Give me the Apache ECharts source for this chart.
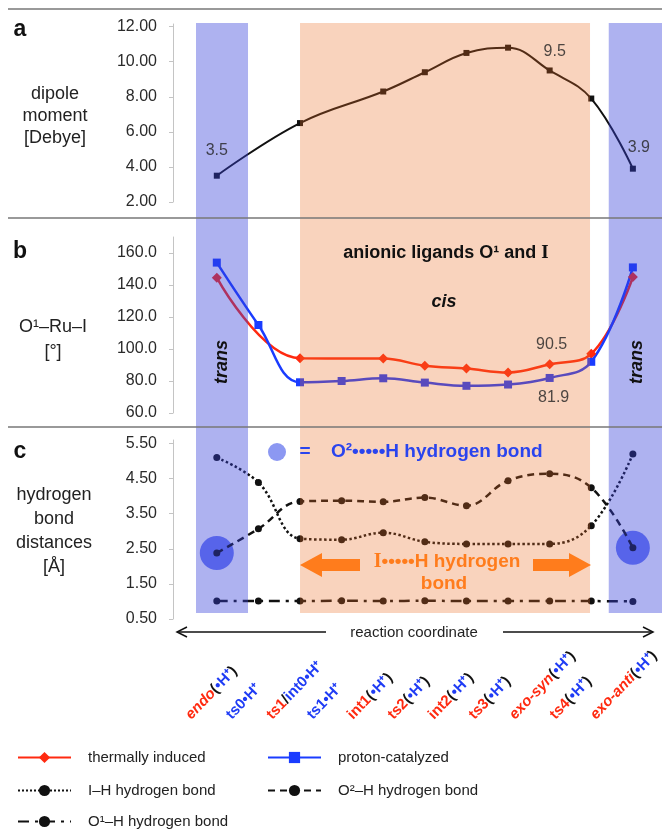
<!DOCTYPE html>
<html><head><meta charset="utf-8">
<script src="https://cdn.jsdelivr.net/npm/echarts@6/dist/echarts.min.js"></script>
<style>html,body{margin:0;padding:0;background:#fff}#c{width:662px;height:831px}</style>
</head><body><div id="c"></div>
<script>
// ---------- data ----------
const categories = ['endo(•H⁺)','ts0•H⁺','ts1/int0•H⁺','ts1•H⁺','int1(•H⁺)','ts2(•H⁺)','int2(•H⁺)','ts3(•H⁺)','exo-syn(•H⁺)','ts4(•H⁺)','exo-anti(•H⁺)'];
const dipole   = [3.5, null, 6.5, null, 8.3, 9.4, 10.5, 10.8, 9.5, 7.9, 3.9];
const dipoleLabelIdx = [0, 8, 10];
const thermal  = [144.6, null, 94.2, null, 94.0, 89.6, 87.8, 85.3, 90.5, 97.0, 145.0];
const proton   = [154.0, 115.0, 79.2, 80.0, 81.7, 79.0, 77.0, 77.8, 81.9, 92.0, 151.0];
const thermalLabelIdx = [8];
const protonLabelIdx = [8];
const ihBond   = [5.1, 4.39, 2.79, 2.76, 2.96, 2.70, 2.64, 2.64, 2.64, 3.16, 5.2];
const o2hBond  = [2.38, 3.07, 3.85, 3.87, 3.84, 3.96, 3.73, 4.44, 4.64, 4.24, 2.53];
const o1hBond  = [1.01, 1.01, 1.01, 1.02, 1.01, 1.02, 1.01, 1.01, 1.01, 1.01, 1.0];
const o2hCircleIdx = [0, 10];
const ticksA = [2, 4, 6, 8, 10, 12];
const ticksB = [60, 80, 100, 120, 140, 160];
const ticksC = [0.5, 1.5, 2.5, 3.5, 4.5, 5.5];
// background regions along the reaction coordinate: [from, to, kind] (0 = trans, 1 = cis)
const regions = [[-0.5, 0.75, 0], [2.0, 8.97, 1], [9.42, 10.7, 0]];

// ---------- helpers ----------
const FONT = "'Liberation Sans', Arial, sans-serif";
const pts = arr => arr.map((v, i) => v == null ? null : [i, v]).filter(Boolean);
const pick = (arr, idx) => idx.map(i => [i, arr[i]]);
const XMIN = -0.5, XMAX = 10.7;

function catLabel(name) {
  const italic = /^(endo|exo)/.test(name);
  let m;
  if ((m = name.match(/^(.*)\((•H⁺)\)$/))) return '{' + (italic ? 'ri' : 'r') + '|' + m[1] + '}{k|(}{b|' + m[2] + '}{k|)}';
  if ((m = name.match(/^(.*)\/(.*)$/))) return '{r|' + m[1] + '}{k|/}{b|' + m[2] + '}';
  return '{b|' + name + '}';
}

function yAx(grid, min, max, ticks, dec) {
  return {
    type: 'value', gridIndex: grid, min: min, max: max, offset: 23,
    axisLine: {show: true, onZero: false, lineStyle: {color: '#c4c4c4', width: 1}},
    axisTick: {show: true, length: 4, customValues: ticks, lineStyle: {color: '#c4c4c4'}},
    splitLine: {show: false},
    axisLabel: {customValues: ticks, margin: 16, color: '#2a2a2a', fontSize: 16, fontFamily: FONT,
      formatter: v => Number(v).toFixed(dec)}
  };
}
const hiddenX = g => ({type: 'value', gridIndex: g, min: XMIN, max: XMAX, show: false});

const chart = echarts.init(document.getElementById('c'), null, {renderer: 'canvas'});

const txt = (text, x, y, font, fill, extra) => ({
  type: 'text', x: x, y: y, z: 100,
  style: Object.assign({text: text, font: font, fill: fill, textAlign: 'center', textVerticalAlign: 'middle'}, extra || {})
});

const lineCol = '#777';
const graphics = [
  {type: 'line', z: 100, shape: {x1: 8, y1: 9, x2: 662, y2: 9}, style: {stroke: lineCol, lineWidth: 1.5}},
  {type: 'line', z: 100, shape: {x1: 8, y1: 218, x2: 662, y2: 218}, style: {stroke: lineCol, lineWidth: 1.5}},
  {type: 'line', z: 100, shape: {x1: 8, y1: 427, x2: 662, y2: 427}, style: {stroke: lineCol, lineWidth: 1.5}},
  txt('a', 20, 30, 'bold 23px ' + FONT, '#111'),
  txt('b', 20, 252, 'bold 23px ' + FONT, '#111'),
  txt('c', 20, 452, 'bold 23px ' + FONT, '#111'),
  txt('dipole\nmoment\n[Debye]', 55, 116, '18px ' + FONT, '#222', {lineHeight: 22}),
  txt('O¹–Ru–I\n[°]', 53, 340, '18px ' + FONT, '#222', {lineHeight: 25}),
  txt('hydrogen\nbond\ndistances\n[Å]', 54, 531, '18px ' + FONT, '#222', {lineHeight: 24}),
  {type: 'text', z: 100, x: 446, y: 253, style: {
    text: '{s|anionic ligands O¹ and }{i|I}', textAlign: 'center', textVerticalAlign: 'middle',
    rich: {s: {font: 'bold 18px ' + FONT, fill: '#111'}, i: {font: 'bold 19px "Liberation Serif", serif', fill: '#111'}}}},
  txt('cis', 444, 302, 'italic bold 18px ' + FONT, '#111'),
  {type: 'text', z: 100, x: 222, y: 362, rotation: Math.PI / 2, style: {text: 'trans', font: 'italic bold 18px ' + FONT, fill: '#111', textAlign: 'center', textVerticalAlign: 'middle'}},
  {type: 'text', z: 100, x: 637, y: 362, rotation: Math.PI / 2, style: {text: 'trans', font: 'italic bold 18px ' + FONT, fill: '#111', textAlign: 'center', textVerticalAlign: 'middle'}},
  {type: 'circle', z: 100, shape: {cx: 277, cy: 452, r: 9}, style: {fill: '#8c98f2'}},
  txt('=', 305, 452, 'bold 19px ' + FONT, '#2a44ee'),
  txt('O²•••••H hydrogen bond', 331, 452, 'bold 19px ' + FONT, '#2a44ee', {textAlign: 'left'}),
  {type: 'text', z: 100, x: 447, y: 562, style: {
    text: '{i|I}{s|•••••H hydrogen}', textAlign: 'center', textVerticalAlign: 'middle',
    rich: {s: {font: 'bold 19px ' + FONT, fill: '#ff7c1c'}, i: {font: 'bold 20px "Liberation Serif", serif', fill: '#ff7c1c'}}}},
  txt('bond', 444, 584, 'bold 19px ' + FONT, '#ff7c1c'),
  {type: 'polygon', z: 100, shape: {points: [[300, 565], [322, 553], [322, 559], [360, 559], [360, 571], [322, 571], [322, 577]]}, style: {fill: '#ff7c1c'}},
  {type: 'polygon', z: 100, shape: {points: [[591, 565], [569, 553], [569, 559], [533, 559], [533, 571], [569, 571], [569, 577]]}, style: {fill: '#ff7c1c'}},
  {type: 'line', z: 100, shape: {x1: 177, y1: 632, x2: 326, y2: 632}, style: {stroke: '#111', lineWidth: 1.5}},
  {type: 'polyline', z: 100, shape: {points: [[187, 627], [177, 632], [187, 637]]}, style: {stroke: '#111', lineWidth: 1.5, fill: null}},
  {type: 'line', z: 100, shape: {x1: 503, y1: 632, x2: 653, y2: 632}, style: {stroke: '#111', lineWidth: 1.5}},
  {type: 'polyline', z: 100, shape: {points: [[643, 627], [653, 632], [643, 637]]}, style: {stroke: '#111', lineWidth: 1.5, fill: null}},
  txt('reaction coordinate', 414, 633, '15px ' + FONT, '#222')
];

const legendBase = (name, left, top) => ({
  data: [name], left: left, top: top, padding: 0, itemWidth: 53, itemHeight: 14,
  selectedMode: false, textStyle: {fontSize: 15, color: '#222', fontFamily: FONT, padding: [0, 0, 0, 12]}
});

const labelStyle = {color: '#222', fontSize: 16, fontFamily: FONT};

const option = {
  animation: false,
  backgroundColor: '#fff',
  textStyle: {fontFamily: FONT},
  grid: [
    {left: 196, right: 0, top: 24, height: 178},
    {left: 196, right: 0, top: 237, height: 176},
    {left: 196, right: 0, top: 440, height: 179},
    {left: 196, right: 0, top: 23, height: 590},
    {left: 168, right: 28, top: 720, height: 1}
  ],
  xAxis: [hiddenX(0), hiddenX(1), hiddenX(2), hiddenX(3), {
    type: 'value', gridIndex: 4, min: XMIN, max: XMAX, position: 'top',
    axisLine: {show: false}, axisTick: {show: false}, splitLine: {show: false},
    axisLabel: {
      customValues: categories.map((c, i) => i), rotate: 46, margin: 3,
      formatter: v => catLabel(categories[Math.round(v)]),
      rich: {
        r: {color: '#ff2a10', fontWeight: 'bold', fontSize: 15, fontFamily: FONT},
        ri: {color: '#ff2a10', fontWeight: 'bold', fontStyle: 'italic', fontSize: 15, fontFamily: FONT},
        b: {color: '#1f3cf5', fontWeight: 'bold', fontSize: 15, fontFamily: FONT},
        k: {color: '#111', fontWeight: 'bold', fontSize: 15, fontFamily: FONT}
      }
    }
  }],
  yAxis: [
    yAx(0, 2, 12.15, ticksA, 2),
    yAx(1, 60, 170, ticksB, 1),
    yAx(2, 0.5, 5.6, ticksC, 2),
    {type: 'value', gridIndex: 3, min: 0, max: 1, show: false},
    {type: 'value', gridIndex: 4, min: 0, max: 1, show: false}
  ],
  legend: [
    legendBase('thermally induced', 17, 750),
    legendBase('proton-catalyzed', 267, 750),
    legendBase('I–H hydrogen bond', 17, 783),
    legendBase('O²–H hydrogen bond', 267, 783),
    legendBase('O¹–H hydrogen bond', 17, 814)
  ],
  graphic: {elements: graphics},
  series: [
    { // translucent trans / cis regions drawn over the curves
      type: 'custom', xAxisIndex: 3, yAxisIndex: 3, z: 5, silent: true, data: regions,
      renderItem: (params, api) => {
        const p0 = api.coord([api.value(0), 1]);
        const p1 = api.coord([api.value(1), 0]);
        const fills = ['rgba(52,62,217,0.4)', 'rgba(235,108,35,0.3)'];
        return {type: 'rect', shape: {x: p0[0], y: p0[1], width: p1[0] - p0[0], height: p1[1] - p0[1]},
          style: {fill: fills[api.value(2)]}};
      }
    },
    {
      type: 'line', name: 'dipole moment', xAxisIndex: 0, yAxisIndex: 0, data: pts(dipole), smooth: 0.4,
      symbol: 'rect', symbolSize: 6, lineStyle: {color: '#111', width: 2}, itemStyle: {color: '#111'}
    },
    {
      type: 'scatter', xAxisIndex: 0, yAxisIndex: 0, z: 20, symbolSize: 0, silent: true,
      data: pick(dipole, dipoleLabelIdx).map((d, k) => ({value: d,
        label: {show: true, position: 'top', distance: [17, 11, 13][k], offset: [[0, 0], [5, 0], [6, 0]][k]}})),
      label: Object.assign({formatter: p => p.value[1].toFixed(1)}, labelStyle)
    },
    {
      type: 'line', name: 'thermally induced', xAxisIndex: 1, yAxisIndex: 1, data: pts(thermal), smooth: 0.4,
      symbol: 'diamond', symbolSize: 10, lineStyle: {color: '#ff2a10', width: 2.5}, itemStyle: {color: '#ff2a10'}
    },
    {
      type: 'line', name: 'proton-catalyzed', xAxisIndex: 1, yAxisIndex: 1, data: pts(proton), smooth: 0.4,
      symbol: 'rect', symbolSize: 8, lineStyle: {color: '#1a3cff', width: 2.5}, itemStyle: {color: '#1a3cff'}
    },
    {
      type: 'scatter', xAxisIndex: 1, yAxisIndex: 1, z: 20, symbolSize: 0, silent: true,
      data: pick(thermal, thermalLabelIdx).map(d => ({value: d, label: {show: true, position: 'top', distance: 12, offset: [2, 0]}}))
        .concat(pick(proton, protonLabelIdx).map(d => ({value: d, label: {show: true, position: 'bottom', distance: 12, offset: [4, 0]}}))),
      label: Object.assign({formatter: p => p.value[1].toFixed(1)}, labelStyle)
    },
    {
      type: 'scatter', xAxisIndex: 2, yAxisIndex: 2, z: 1, silent: true, symbolSize: 34,
      data: pick(o2hBond, o2hCircleIdx), itemStyle: {color: '#4a5cf2'}
    },
    {
      type: 'line', name: 'I–H hydrogen bond', xAxisIndex: 2, yAxisIndex: 2, data: pts(ihBond), smooth: 0.4,
      symbol: 'circle', symbolSize: 7, lineStyle: {color: '#111', width: 2.5, type: 'dotted'}, itemStyle: {color: '#111'}
    },
    {
      type: 'line', name: 'O²–H hydrogen bond', xAxisIndex: 2, yAxisIndex: 2, data: pts(o2hBond), smooth: 0.4,
      symbol: 'circle', symbolSize: 7, lineStyle: {color: '#111', width: 2.5, type: [7, 5]}, itemStyle: {color: '#111'}
    },
    {
      type: 'line', name: 'O¹–H hydrogen bond', xAxisIndex: 2, yAxisIndex: 2, data: pts(o1hBond), smooth: 0.4,
      symbol: 'circle', symbolSize: 7, lineStyle: {color: '#111', width: 2.5, type: [11, 6, 3, 6]}, itemStyle: {color: '#111'}
    }
  ]
};
chart.setOption(option);
</script>
</body></html>
